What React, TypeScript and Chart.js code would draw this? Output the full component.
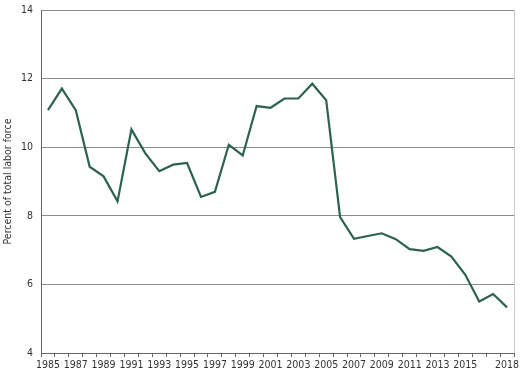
import React, { useEffect, useRef } from "react";
import { Chart, registerables } from "chart.js";

Chart.register(...registerables);

const years: string[] = [
  "1985", "1986", "1987", "1988", "1989", "1990", "1991", "1992", "1993", "1994",
  "1995", "1996", "1997", "1998", "1999", "2000", "2001", "2002", "2003", "2004",
  "2005", "2006", "2007", "2008", "2009", "2010", "2011", "2012", "2013", "2014",
  "2015", "2016", "2017", "2018",
];

const percentValues: number[] = [
  11.08, 11.71, 11.08, 9.43, 9.15, 8.42, 10.52, 9.82, 9.3, 9.49,
  9.54, 8.55, 8.7, 10.07, 9.76, 11.2, 11.15, 11.42, 11.42, 11.85,
  11.37, 7.96, 7.33, 7.41, 7.49, 7.32, 7.03, 6.98, 7.09, 6.81,
  6.28, 5.5, 5.72, 5.33,
];

const shownYearLabels: string[] = [
  "1985", "1987", "1989", "1991", "1993", "1995", "1997", "1999", "2001", "2003",
  "2005", "2007", "2009", "2011", "2013", "2015", "2018",
];

const yAxisTitle = "Percent of total labor force";

const FONT = "'DejaVu Sans Condensed', 'Liberation Sans', sans-serif";

const rightBorderPlugin = {
  id: "rightBorder",
  afterDraw(chart: any) {
    const { ctx, chartArea } = chart;
    ctx.save();
    ctx.strokeStyle = "#c8c8c8";
    ctx.lineWidth = 1;
    ctx.beginPath();
    const x = Math.round(chartArea.right) + 0.5;
    ctx.moveTo(x, chartArea.top);
    ctx.lineTo(x, chartArea.bottom);
    ctx.stroke();
    ctx.restore();
  },
};

export default function App() {
  const canvasRef = useRef<HTMLCanvasElement | null>(null);

  useEffect(() => {
    const canvas = canvasRef.current;
    if (!canvas) return;
    const chart = new Chart(canvas, {
      type: "line",
      data: {
        labels: years,
        datasets: [
          {
            data: percentValues,
            borderColor: "#2d6150",
            borderWidth: 2.2,
            pointRadius: 0,
            tension: 0,
            fill: false,
          },
        ],
      },
      options: {
        animation: false,
        responsive: true,
        maintainAspectRatio: false,
        layout: { padding: { top: 10, right: 9, left: 0, bottom: 0 } },
        plugins: {
          legend: { display: false },
          tooltip: { enabled: false },
        },
        scales: {
          x: {
            type: "category",
            offset: true,
            grid: {
              offset: true,
              drawOnChartArea: false,
              drawTicks: true,
              tickLength: 4,
              color: "#666666",
            },
            border: { color: "#666666", width: 1 },
            ticks: {
              autoSkip: false,
              maxRotation: 0,
              minRotation: 0,
              padding: 2,
              color: "#333333",
              font: { family: FONT, size: 10.5 },
              callback: (_v: any, i: number) =>
                shownYearLabels.includes(years[i]) ? years[i] : "",
            },
            afterFit: (s: any) => {
              s.height = 21;
            },
          },
          y: {
            min: 4,
            max: 14,
            ticks: {
              stepSize: 2,
              padding: 0,
              color: "#333333",
              font: { family: FONT, size: 10.5 },
            },
            grid: {
              color: "#8a8a8a",
              drawTicks: true,
              tickLength: 8,
              tickColor: "rgba(0,0,0,0)",
              lineWidth: 1,
            },
            border: { color: "#666666", width: 1 },
            title: {
              display: true,
              text: yAxisTitle,
              color: "#333333",
              font: { family: FONT, size: 10.5 },
              padding: { top: 2, bottom: 0 },
            },
            afterFit: (s: any) => {
              s.width = 41;
            },
          },
        },
      },
      plugins: [rightBorderPlugin],
    });
    return () => chart.destroy();
  }, []);

  return (
    <div style={{ position: "absolute", left: 0, top: 0, width: 523, height: 374, background: "#ffffff" }}>
      <canvas ref={canvasRef} />
    </div>
  );
}
